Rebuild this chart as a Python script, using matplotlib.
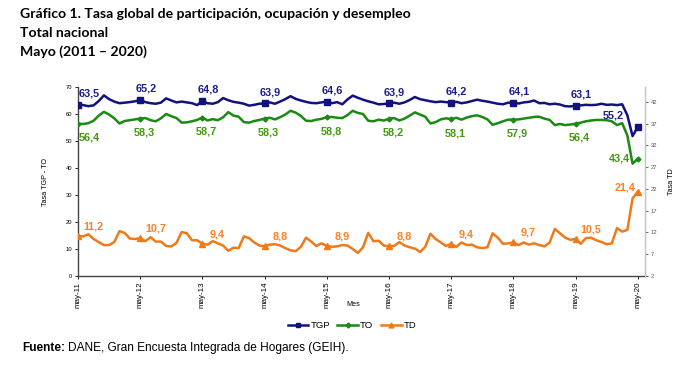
import numpy as np
import matplotlib
matplotlib.use('Agg')
import matplotlib.pyplot as plt
from matplotlib.lines import Line2D

# monthly series, may-2011 ... may-2020
tgp = [63.5, 63.3, 62.9, 63.2, 64.8, 66.9, 65.5, 64.6, 64.0, 64.2, 64.4, 64.7,
       65.2, 64.4, 64.0, 63.8, 64.2, 65.8, 65.0, 64.3, 64.6, 64.3, 64.0, 63.3,
       64.8, 64.0, 63.8, 64.4, 65.9, 65.1, 64.5, 64.2, 63.8, 63.1, 63.4, 63.8,
       63.9, 64.3, 63.8, 64.6, 65.5, 66.6, 65.6, 65.0, 64.5, 64.1, 64.0, 64.3,
       64.6, 64.0, 64.4, 63.6, 65.4, 66.8, 66.0, 65.3, 64.7, 64.2, 63.6, 63.7,
       63.9, 64.2, 63.8, 64.3, 65.2, 66.3, 65.5, 65.1, 64.7, 64.4, 64.6, 64.4,
       64.2, 64.5, 64.0, 64.3, 64.8, 65.3, 64.9, 64.6, 64.2, 63.8, 63.6, 64.2,
       64.1, 63.9, 64.3, 64.5, 65.0, 64.0, 64.1, 63.6, 63.8, 63.5, 62.9, 62.8,
       63.1, 63.2, 63.4, 63.3, 63.4, 63.8, 63.4, 63.5, 63.3, 63.6, 59.5, 51.8,
       55.2]
to = [56.4, 56.3, 56.6, 57.5, 59.4, 60.8, 59.8, 58.4, 56.5, 57.4, 57.7, 58.0,
      58.3, 58.5, 57.7, 57.3, 58.4, 60.0, 59.2, 58.5, 56.8, 56.9, 57.3, 57.8,
      58.7, 57.6, 58.1, 57.7, 58.8, 60.7, 59.4, 59.0, 57.0, 56.8, 57.4, 57.8,
      58.3, 58.6, 58.0, 58.8, 59.8, 61.2, 60.5, 59.3, 57.5, 57.4, 57.9, 58.2,
      58.8, 58.9, 58.6, 58.5, 59.6, 61.2, 60.4, 60.0, 57.5, 57.3, 57.9, 57.6,
      58.2, 58.5, 57.6, 58.3, 59.4, 60.6, 59.8, 59.0, 56.5, 57.0, 58.0, 58.4,
      58.1, 58.6, 57.9, 58.7, 59.2, 59.5, 58.9, 58.0, 56.0, 56.6, 57.3, 57.9,
      57.9, 58.0, 58.3, 58.6, 58.9, 59.0, 58.3, 57.8, 55.9, 56.3, 55.9, 56.1,
      56.4, 56.8, 57.3, 57.6, 57.8, 57.8, 57.7, 57.3, 55.9, 56.6, 52.0, 41.6,
      43.4]
td = [11.2, 11.1, 11.6, 10.5, 9.8, 9.1, 9.1, 9.8, 12.3, 11.9, 10.6, 10.5,
      10.7, 10.0, 10.9, 9.9, 9.9, 8.9, 8.8, 9.6, 12.1, 11.8, 10.2, 10.2,
      9.4, 9.2, 10.0, 9.5, 9.0, 7.8, 8.5, 8.4, 11.1, 10.7, 9.7, 9.0,
      8.8, 9.2, 9.3, 9.0, 8.4, 7.9, 7.7, 8.7, 10.8, 9.9, 8.9, 9.5,
      8.9, 8.7, 8.8, 9.1, 9.0, 8.2, 7.3, 8.6, 11.9, 10.0, 10.1, 9.0,
      8.8, 8.9, 9.8, 9.0, 8.6, 8.3, 7.5, 8.7, 11.7, 10.5, 9.7, 8.9,
      9.4, 8.7, 9.7, 9.1, 9.2, 8.6, 8.4, 8.6, 11.8, 10.8, 9.4, 9.5,
      9.7, 9.1, 9.7, 9.2, 9.5, 9.1, 8.8, 9.7, 12.8, 11.8, 10.8, 10.3,
      10.5, 9.4, 10.7, 10.8, 10.2, 9.8, 9.3, 9.5, 13.0, 12.2, 12.6, 19.8,
      21.4]
tick_labels = ['may-11', 'may-12', 'may-13', 'may-14', 'may-15',
               'may-16', 'may-17', 'may-18', 'may-19', 'may-20']

c_tgp, c_to, c_td = '#12127f', '#1a8a12', '#f07a1a'
lab_tgp, lab_to, lab_td = '#1c1c8c', '#3f9a0c', '#ff7f24'

x = np.arange(len(tgp))
may_idx = x[::12]

fig = plt.figure(figsize=(6.77, 3.73), dpi=100)
ax = fig.add_axes([78/677, 97/373, 567/677, 189/373])
ax2 = ax.twinx()

ax.plot(x, tgp, color=c_tgp, lw=1.8, marker='s', ms=4.5, markevery=12,
        solid_joinstyle='round', zorder=3)
ax.plot(x, to, color=c_to, lw=1.8, marker='D', ms=2.5, markevery=12,
        solid_joinstyle='round', zorder=3)
ax2.plot(x, td, color=c_td, lw=1.8, marker='^', ms=4.5, markevery=12,
         solid_joinstyle='round', zorder=3)

ax.set_xlim(0, 109.4)
ax.set_ylim(0, 70)
ax.set_yticks(range(0, 71, 10))
ax2.set_ylim(2, 45.4)
ax2.set_yticks(range(2, 43, 5))
ax.set_xticks(may_idx)
ax.set_xticklabels(tick_labels, rotation=90, fontsize=5.8, family='Liberation Sans')
ax.tick_params(axis='y', labelsize=4.2, length=2, width=0.6, pad=2)
ax.tick_params(axis='x', length=2, width=0.6, pad=2)
ax2.tick_params(axis='y', labelsize=4.2, length=2, width=0.6, pad=2, colors='#555555')
for t in ax.get_yticklabels() + ax2.get_yticklabels():
    t.set_family('Liberation Sans')

for a in (ax, ax2):
    a.spines['top'].set_visible(False)
ax.spines['left'].set_linewidth(1.0)
ax.spines['bottom'].set_linewidth(1.0)
ax.spines['left'].set_color('#444444')
ax.spines['bottom'].set_color('#444444')
ax2.spines['right'].set_color('#c8c8c8')
ax2.spines['left'].set_visible(False)
ax2.spines['bottom'].set_visible(False)

lab_kw = dict(textcoords='offset points', ha='center', va='center',
              fontsize=7.8, fontweight='bold', family='Liberation Sans')

def fmt(v):
    return ('%.1f' % v).replace('.', ',')

for k, i in enumerate(may_idx):
    last = (k == len(may_idx) - 1)
    # TGP above
    dx = -18 if last else (8 if k == 0 else 4)
    ax.annotate(fmt(tgp[i]), (i, tgp[i]), xytext=(dx, 8), color=lab_tgp, **lab_kw)
    # TO below
    if last:
        ax.annotate(fmt(to[i]), (i, to[i]), xytext=(-13, 0), color=lab_to, **lab_kw)
    else:
        dx = 8 if k == 0 else 3
        ax.annotate(fmt(to[i]), (i, to[i]), xytext=(dx, -10), color=lab_to, **lab_kw)
    # TD upper right
    if last:
        ax2.annotate(fmt(td[i]), (i, td[i]), xytext=(-9, 3), color=lab_td, **lab_kw)
    else:
        ax2.annotate(fmt(td[i]), (i, td[i]), xytext=(11, 7), color=lab_td, **lab_kw)

ax.set_ylabel('Tasa TGP - TO', fontsize=5.2, family='Liberation Sans', labelpad=12)
ax2.set_ylabel('Tasa TD', fontsize=5.2, family='Liberation Sans', labelpad=8)
fig.text(353/677, 1 - 305/373, 'Mes', fontsize=5.2, family='Liberation Sans',
         ha='center', va='center')

# legend
handles = [Line2D([], [], color=c_tgp, lw=1.8, marker='s', ms=3.5),
           Line2D([], [], color=c_to, lw=1.8, marker='D', ms=2.5),
           Line2D([], [], color=c_td, lw=1.8, marker='^', ms=3.5)]
fig.legend(handles, ['TGP', 'TO', 'TD'], loc='center', ncol=3,
           bbox_to_anchor=(352/677, 1 - 326/373), frameon=False,
           prop={'family': 'Liberation Sans', 'size': 6.8},
           handlelength=2.2, handletextpad=0.2, columnspacing=0.8)

# titles
title_kw = dict(fontsize=10.1, fontweight='bold', family='Lato', ha='left', va='center')
fig.text(20/677, 1 - 14/373, 'Gráfico 1. Tasa global de participación, ocupación y desempleo', **title_kw)
fig.text(20/677, 1 - 33/373, 'Total nacional', **title_kw)
fig.text(20/677, 1 - 52/373, 'Mayo (2011 – 2020)', **title_kw)

# source
r = fig.canvas.get_renderer()
f1 = fig.text(22/677, 1 - 348/373, 'Fuente:', fontsize=8.6, fontweight='bold',
              family='Liberation Sans', ha='left', va='center')
bb = f1.get_window_extent(renderer=r)
fig.text(bb.x1 / fig.bbox.width + 3/677, 1 - 348/373,
         'DANE, Gran Encuesta Integrada de Hogares (GEIH).', fontsize=8.6,
         family='Liberation Sans', ha='left', va='center')

fig.savefig('out.png', dpi=100)
